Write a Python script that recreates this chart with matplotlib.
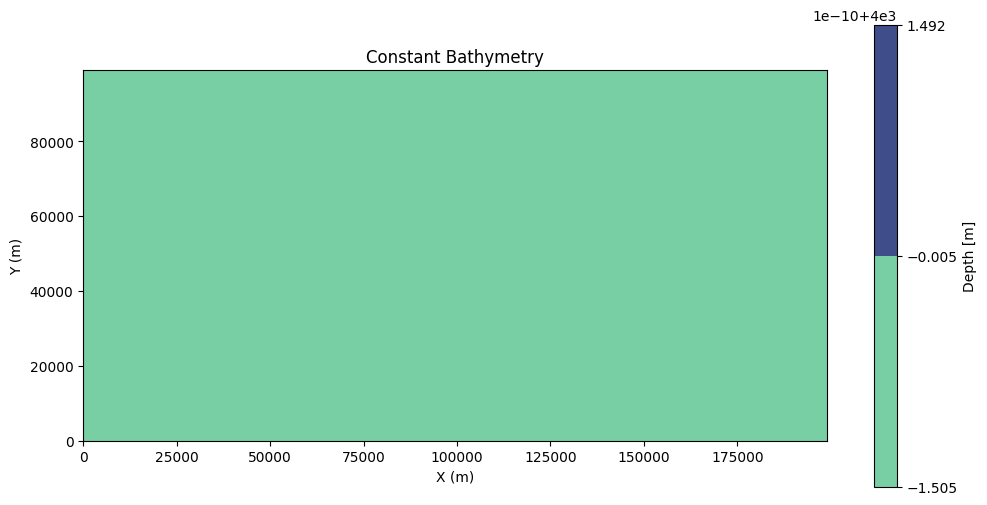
import numpy as np
import matplotlib.pyplot as plt
from matplotlib.colors import ListedColormap

# model grid (m)
x = np.arange(0, 200000, 1000)
y = np.arange(0, 100000, 1000)
depth_value = 4000.0

fill_colors = ['#79cfa4', '#3f4d8a']

X, Y = np.meshgrid(x, y)
depth = np.full(X.shape, depth_value)

fig, ax = plt.subplots(figsize=(12, 6))
cf = ax.contourf(X, Y, depth, cmap=ListedColormap(fill_colors))
cb = fig.colorbar(cf, ax=ax)
cb.set_label('Depth [m]')
ax.set_aspect('equal')
ax.set_title('Constant Bathymetry')
ax.set_xlabel('X (m)')
ax.set_ylabel('Y (m)')
plt.savefig('out.png', dpi=100, bbox_inches='tight')
